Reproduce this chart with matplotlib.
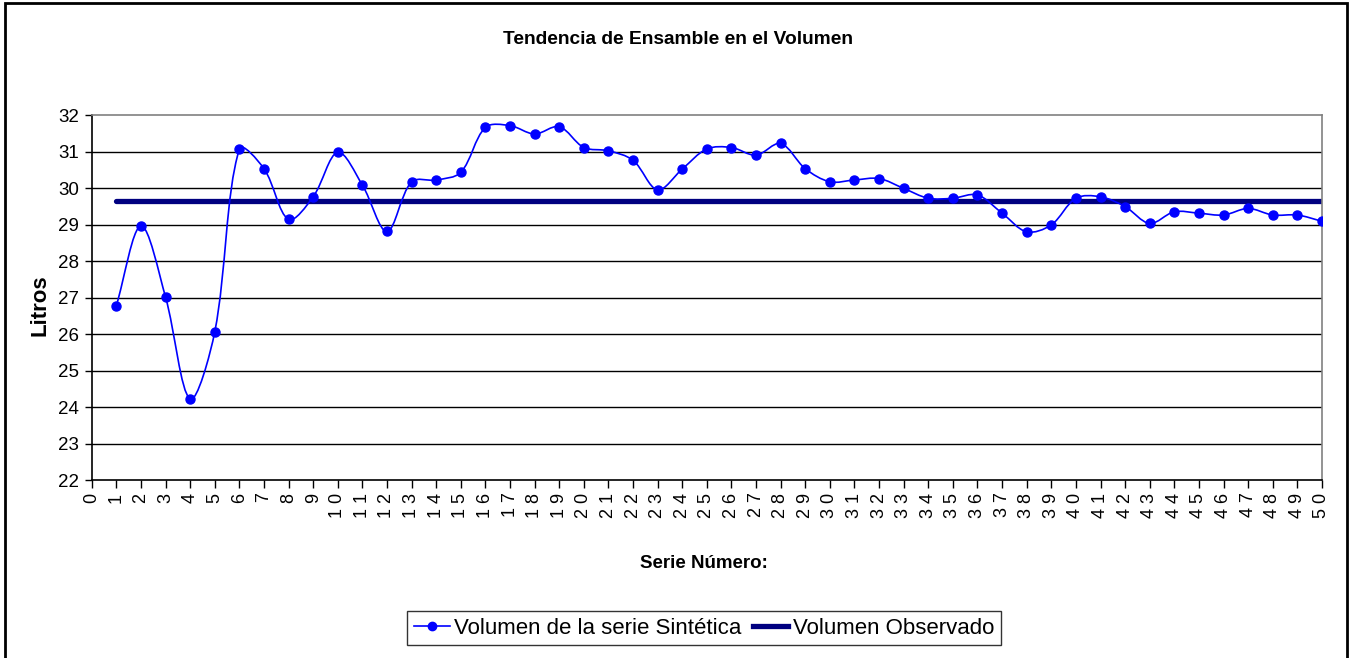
import matplotlib
matplotlib.use('Agg')

import numpy as np
import matplotlib.pyplot as plt
from matplotlib.path import Path
from matplotlib.patches import PathPatch, Rectangle
from matplotlib.lines import Line2D

# data
serie = list(range(1, 51))
volumen_sintetico = [
    26.78, 28.96, 27.01, 24.22, 26.06, 31.07, 30.53, 29.14, 29.76, 30.98,
    30.08, 28.81, 30.17, 30.22, 30.43, 31.66, 31.71, 31.48, 31.68, 31.11,
    31.02, 30.76, 29.95, 30.52, 31.07, 31.11, 30.90, 31.22, 30.53, 30.17,
    30.22, 30.26, 29.99, 29.72, 29.72, 29.81, 29.31, 28.80, 28.99, 29.72,
    29.76, 29.49, 29.03, 29.35, 29.31, 29.26, 29.44, 29.26, 29.26, 29.09,
]
volumen_observado = [29.65] * 50
x_ticks = list(range(0, 51))
y_ticks = list(range(22, 33))

plt.rcParams['font.family'] = ['Liberation Sans', 'DejaVu Sans']

BLUE = '#0000FF'
NAVY = '#000080'


def smooth_path(ax, xs, ys):
    """Excel-like smoothed line: cubic Bezier through every point,
    tangents shortened by the screen length of the neighbouring segments."""
    fig = ax.figure
    pos = ax.get_position()
    x0, x1 = ax.get_xlim()
    y0, y1 = ax.get_ylim()
    sx = pos.width * fig.get_figwidth() * fig.dpi / (x1 - x0)
    sy = pos.height * fig.get_figheight() * fig.dpi / (y1 - y0)
    p = np.column_stack([xs, ys]).astype(float)
    scale = np.array([sx, sy])
    n = len(p)

    def dist(a, b):
        return np.hypot(*((p[a] - p[b]) * scale))

    verts = [p[0]]
    codes = [Path.MOVETO]
    for i in range(n - 1):
        j = i + 1
        # outgoing control point of i
        if i > 0:
            dl, dr = dist(i, i - 1), dist(i, j)
            c1 = p[i] + (p[j] - p[i - 1]) * dr / (dl + dr) / 3.0
        else:
            c1 = p[i] + (p[j] - p[i]) / 3.0
        # incoming control point of j
        if j < n - 1:
            dl, dr = dist(j, i), dist(j, j + 1)
            c2 = p[j] - (p[j + 1] - p[i]) * dl / (dl + dr) / 3.0
        else:
            c2 = p[j] - (p[j] - p[i]) / 3.0
        verts += [c1, c2, p[j]]
        codes += [Path.CURVE4] * 3
    return Path(verts, codes)


fig = plt.figure(figsize=(13.51, 6.58), dpi=100)
ax = fig.add_axes([0.0679, 0.2705, 0.9106, 0.5547])
ax.set_xlim(0, 50)
ax.set_ylim(22, 32)

# outer chart border (bottom edge runs off the picture)
fig.patches.append(Rectangle((5 / 1351, -0.05), 1342 / 1351, 1.05 - 3 / 658,
                             transform=fig.transFigure, fill=False,
                             edgecolor='black', linewidth=2, zorder=0))

for yv in y_ticks[1:-1]:
    ax.axhline(yv, color='black', linewidth=1, zorder=1)

ax.plot(serie, volumen_observado, color=NAVY, linewidth=3.8,
        solid_capstyle='round', zorder=2)

ax.add_patch(PathPatch(smooth_path(ax, serie, volumen_sintetico),
                       facecolor='none', edgecolor=BLUE, linewidth=1.2,
                       zorder=3))
ax.plot(serie, volumen_sintetico, linestyle='none', marker='o', markersize=6.5,
        color=BLUE, zorder=4)

ax.set_xticks(x_ticks)
ax.set_xticklabels([' '.join(str(v)) for v in x_ticks], rotation=90,
                   fontsize=13, va='top', ha='center')
ax.set_yticks(y_ticks)
ax.set_yticklabels([str(v) for v in y_ticks], fontsize=13.5)
ax.tick_params(axis='x', direction='out', length=6, width=1, pad=3)
ax.tick_params(axis='y', direction='out', length=5, width=1, pad=4)

for side in ['left', 'bottom']:
    ax.spines[side].set_color('black')
    ax.spines[side].set_linewidth(1.2)
for side in ['top', 'right']:
    ax.spines[side].set_color('#808080')
    ax.spines[side].set_linewidth(1.2)

fig.text(678 / 1351, 1 - 40 / 658, 'Tendencia de Ensamble en el Volumen',
         ha='center', va='center', fontsize=13.8, fontweight='bold')
fig.text(704 / 1351, 1 - 563 / 658, 'Serie Número:',
         ha='center', va='center', fontsize=13.5, fontweight='bold')
fig.text(40 / 1351, 1 - 305 / 658, 'Litros', rotation=90,
         ha='center', va='center', fontsize=16, fontweight='bold')

handles = [
    Line2D([], [], color=BLUE, linewidth=1.2, marker='o', markersize=6),
    Line2D([], [], color=NAVY, linewidth=3.8),
]
leg = fig.legend(handles, ['Volumen de la serie Sintética', 'Volumen Observado'],
                 loc='center', bbox_to_anchor=(704 / 1351, 1 - 628 / 658),
                 ncol=2, fontsize=16, frameon=True, fancybox=False,
                 handlelength=1.6, handletextpad=0.2, columnspacing=0.5,
                 borderpad=0.3, borderaxespad=0)
leg.get_frame().set_edgecolor('black')
leg.get_frame().set_linewidth(1)

fig.savefig('out.png', dpi=100)
